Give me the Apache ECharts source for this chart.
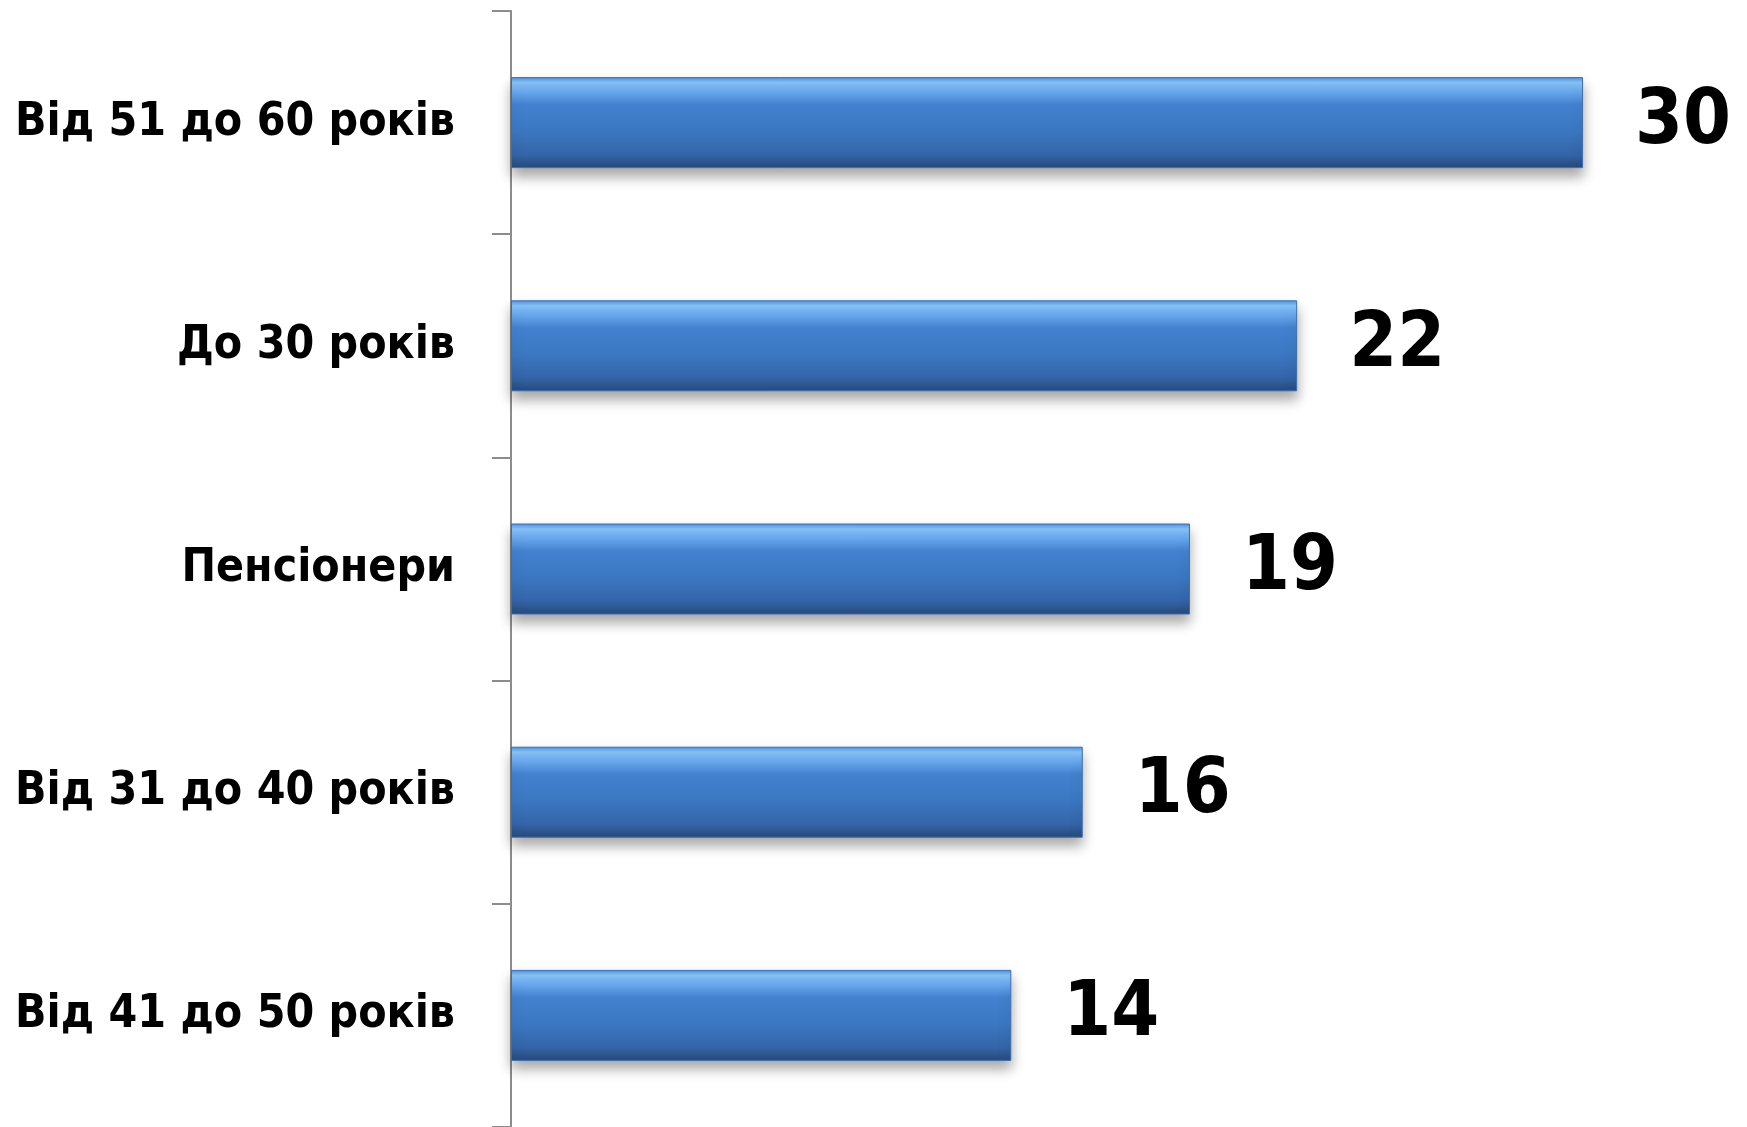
<!DOCTYPE html>
<html>
<head>
<meta charset="utf-8">
<script src="https://cdn.jsdelivr.net/npm/echarts@6/dist/echarts.min.js"></script>
<style>
html,body{margin:0;padding:0;background:#fff;}
#c{width:1747px;height:1127px;}
</style>
</head>
<body>
<div id="c"></div>
<script>
const categories = ["Від 51 до 60 років", "До 30 років", "Пенсіонери", "Від 31 до 40 років", "Від 41 до 50 років"];
const values = [30, 22, 19, 16, 14];

// pick the narrowest available bold sans font
const cv = document.createElement('canvas').getContext('2d');
function w(font, txt) { cv.font = 'bold 100px ' + font; return cv.measureText(txt).width; }
function has(name) {
  const t = 'Від 51 до 60 років mmmwwwiii';
  return w('"' + name + '", monospace', t) !== w('monospace', t) ||
         w('"' + name + '", serif', t) !== w('serif', t);
}
const candidates = ['Liberation Sans Narrow', 'Arial Narrow', 'DejaVu Sans Condensed', 'Roboto Condensed', 'Noto Sans Condensed', 'Open Sans Condensed', 'Liberation Sans'];
let fam = 'Liberation Sans';
for (const c of candidates) { if (has(c)) { fam = c; break; } }
const fontFam = '"' + fam + '", sans-serif';
const catSize = Math.min(59, 100 * 440 / w(fontFam, categories[0]));
const valSize = Math.min(96, 100 * 96 / w(fontFam, '30'));

const chart = echarts.init(document.getElementById('c'));
chart.setOption({
  animation: false,
  backgroundColor: '#ffffff',
  grid: { left: 511, top: 11, width: 1215, height: 1116, containLabel: false, outerBoundsMode: 'none' },
  xAxis: { type: 'value', min: 0, max: 34, show: false },
  yAxis: {
    type: 'category',
    data: categories,
    inverse: true,
    axisLine: { show: true, lineStyle: { color: '#8c8c8c', width: 2 } },
    axisTick: { show: true, length: 19, inside: false, lineStyle: { color: '#8c8c8c', width: 2 } },
    axisLabel: { margin: 56, fontFamily: fontFam, fontWeight: 'bold', fontSize: catSize, color: '#000' }
  },
  series: [{
    type: 'bar',
    data: values,
    barWidth: 91,
    itemStyle: {
      color: new echarts.graphic.LinearGradient(0, 0, 0, 1, [
        { offset: 0, color: '#4d8fd8' },
        { offset: 0.06, color: '#88c4fa' },
        { offset: 0.16, color: '#6aaaf0' },
        { offset: 0.3, color: '#4382d0' },
        { offset: 0.6, color: '#3b77c1' },
        { offset: 0.85, color: '#3465a8' },
        { offset: 1, color: '#27497a' }
      ]),
      borderColor: '#3a6fb3',
      borderWidth: 1,
      shadowColor: 'rgba(0,0,0,0.35)',
      shadowBlur: 12,
      shadowOffsetY: 8
    },
    label: {
      show: true,
      position: 'right',
      distance: 52,
      fontFamily: fontFam,
      fontWeight: 'bold',
      fontSize: valSize,
      color: '#000'
    }
  }]
});
</script>
</body>
</html>
